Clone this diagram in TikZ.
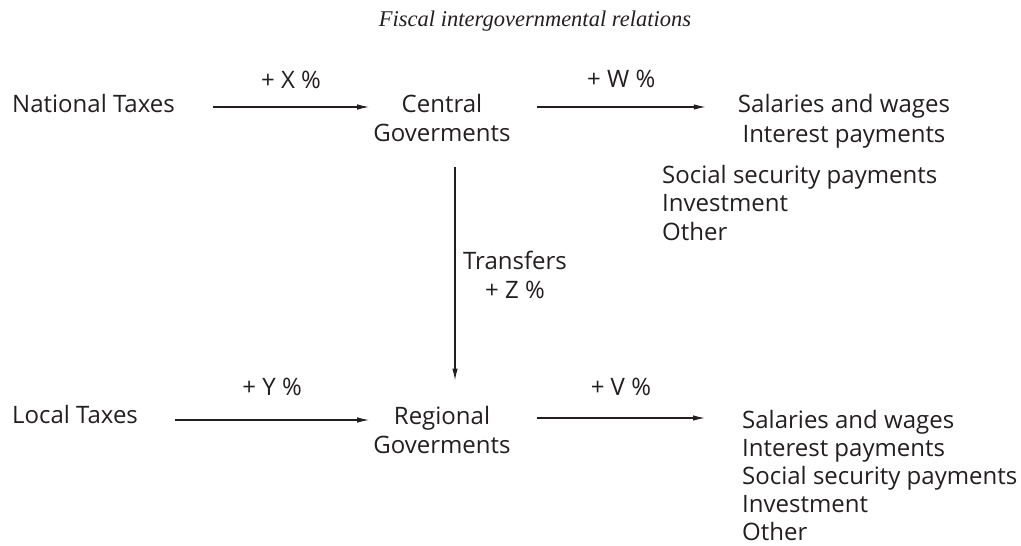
\documentclass[tikz,border=0pt]{standalone}
\usepackage{fontspec}
\setmainfont{Open Sans}
\newfontfamily\ttlfont{Liberation Serif}
\usetikzlibrary{arrows.meta,calc}
\definecolor{ink}{HTML}{231F20}
\begin{document}
\begin{tikzpicture}[x=1pt,y=-1pt,
  txt/.style={inner sep=0pt, text=ink, font=\fontsize{24}{29}\selectfont},
  toplst/.style={txt, font=\fontsize{24}{30}\selectfont},
  lst/.style={txt, font=\fontsize{24}{28.5}\selectfont},
  botlst/.style={txt, font=\fontsize{24}{28}\selectfont},
  ttl/.style={inner sep=0pt, text=ink, font=\ttlfont\itshape\fontsize{22.5}{26}\selectfont},
  arr/.style={draw=ink, line width=1.2pt, -{Latex[length=12pt,width=5.5pt]}},
  lbl/.style={txt, anchor=base}]
\useasboundingbox (0,0) rectangle (1021,546);
% title
\node[ttl, anchor=base] (title) at (535,27) {Fiscal intergovernmental relations};
% top row
\node[txt, anchor=base west] (nt) at (12,112) {National Taxes};
\node[txt, align=center, anchor=base] (cg) at (442,141) {Central\\Goverments};
\node[toplst, align=center, anchor=base] (out1) at (844,142) {Salaries and wages\\Interest payments};
\node[lst, align=left, anchor=base west] (out1b) at (662,240) {Social security payments\\Investment\\Other};
% bottom row
\node[txt, anchor=base west] (lt) at (12,423) {Local Taxes};
\node[txt, align=center, anchor=base] (rg) at (442,453) {Regional\\Goverments};
\node[botlst, align=left, anchor=base west] (out2) at (742,540) {Salaries and wages\\Interest payments\\Social security payments\\Investment\\Other};
% connectors
\draw[arr] ($(nt.base east)+(38,-5)$) -- ($(cg.west |- nt.base east)+(-4,-5)$)
  node[lbl, midway, yshift=19pt] (lx) {+ X \%};
\draw[arr] ($(cg.east |- nt.base east)+(26,-5)$) -- ($(out1.west |- nt.base east)+(-32,-5)$)
  node[lbl, midway, yshift=20pt] (lw) {+ W \%};
\draw[arr] ($(cg.south)+(13,26)$) -- ($(cg.south |- rg.north)+(13,-25)$);
\node[txt, align=center, anchor=base] (tr) at (515,298) {Transfers\\+ Z \%};
\draw[arr] ($(lt.base east)+(37,-3)$) -- ($(rg.west |- lt.base east)+(-4,-3)$)
  node[lbl, midway, yshift=25pt] (ly) {+ Y \%};
\draw[arr] ($(rg.east |- lt.base east)+(26,-5)$) -- ($(out2.west |- lt.base east)+(-37,-5)$)
  node[lbl, midway, yshift=23pt] (lv) {+ V \%};
\end{tikzpicture}
\end{document}
